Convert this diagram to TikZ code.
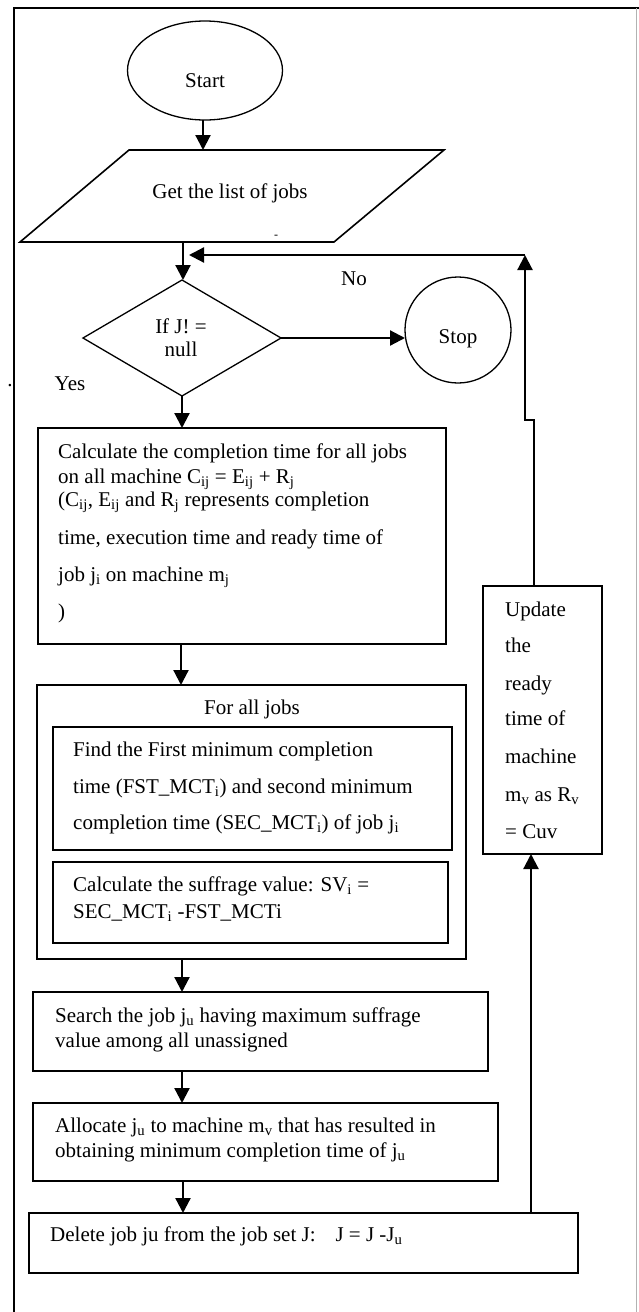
\documentclass[tikz,border=0pt]{standalone}
\usepackage{fontspec}
\setmainfont{Liberation Serif}
\usetikzlibrary{shapes.geometric,arrows.meta}
\begin{document}
\begin{tikzpicture}[x=1pt,y=-1pt,
  txt/.style={inner sep=0pt, font=\fontsize{21}{25}\selectfont, text height=14.7pt, text depth=4.2pt},
  ltxt/.style={txt, anchor=west},
  box/.style={draw, line width=1.7pt, inner sep=0pt, outer sep=0pt},
  thin/.style={draw, line width=1.3pt, inner sep=0pt, outer sep=0pt},
  arr/.style={line width=2.2pt, -{Triangle[length=15pt,width=15pt]}},
  frame/.style={line width=1.8pt}
]
\useasboundingbox (0,0) rectangle (639,1312);
% outer frame
\coordinate (fTL) at (14,8);
\coordinate (fTR) at (639,8);
\coordinate (fBL) at (14,1312);
\coordinate (gT) at (636,8);
\coordinate (gB) at (636,1312);
\draw[frame] (fTR) -- (fTL) -- (fBL);
\draw[line width=0.8pt, black!30] (gT) -- (gB);
\node[txt] (dot) at (10,381) {.};

% start
\node[thin, ellipse, minimum width=155pt, minimum height=99pt] (start) at (205,70.5) {};
\node[txt] (starttxt) at (205,82) {Start};

% parallelogram
\coordinate (pA) at (129,150);
\coordinate (pB) at (444,150);
\coordinate (pC) at (334,242);
\coordinate (pD) at (20,242);
\draw[line width=1.6pt, line join=miter] (pA) -- (pB) -- (pC) -- (pD) -- cycle;
\node[txt] (gettxt) at (230,193) {Get the list of jobs};
\node[inner sep=0pt, font=\fontsize{12}{12}\selectfont] (dash) at (276,237) {-};
\coordinate (pTop) at (203,150);
\coordinate (pBot) at (183,242);
\draw[arr] (start.south -| pTop) -- (pTop);

% decision
\node[thin, diamond, minimum width=198pt, minimum height=116pt] (dec) at (182,338) {};
\node[txt] (dec1) at (181,328) {If J! =};
\node[txt] (dec2) at (181,351) {null};
\draw[arr] (pBot) -- (pBot |- dec.north);

% stop
\node[thin, circle, minimum size=106pt] (stop) at (458,330) {};
\node[txt] (stoptxt) at (458,338) {Stop};
\draw[arr] (dec.east) -- (dec.east -| stop.west);

\node[txt] (no) at (354,280) {No};
\node[txt] (yes) at (70,385) {Yes};

% calc box
\node[box, minimum width=408pt, minimum height=216pt] (calc) at (242,536) {};
\node[ltxt] (c1) at (58,453) {Calculate the completion time for all jobs};
\node[ltxt] (c2) at (58,478) {on all machine C\textsubscript{ij} = E\textsubscript{ij} + R\textsubscript{j}};
\node[ltxt] (c3) at (58,501) {(C\textsubscript{ij}, E\textsubscript{ij} and R\textsubscript{j} represents completion};
\node[ltxt] (c4) at (58,539) {time, execution time and ready time of};
\node[ltxt] (c5) at (58,576) {job j\textsubscript{i} on machine m\textsubscript{j}};
\node[ltxt] (c6) at (58,613) {)};
\draw[arr] (dec.south) -- (dec.south |- calc.north);

% for all box
\node[box, minimum width=429pt, minimum height=274pt] (forall) at (251.5,822) {};
\node[txt] (fatxt) at (252,709) {For all jobs};
\node[box, minimum width=399pt, minimum height=123pt] (find) at (252.5,788.5) {};
\node[ltxt] (f1) at (73,751) {Find the First minimum completion};
\node[ltxt] (f2) at (73,788) {time (FST\_MCT\textsubscript{i}) and second minimum};
\node[ltxt] (f3) at (73,824) {completion time (SEC\_MCT\textsubscript{i}) of job j\textsubscript{i}};
\node[box, minimum width=395pt, minimum height=81pt] (suff) at (250.5,902.5) {};
\node[ltxt] (s1) at (73,886) {Calculate the suffrage value: SV\textsubscript{i} =};
\node[ltxt] (s2) at (73,913) {SEC\_MCT\textsubscript{i} -FST\_MCTi};
\coordinate (a2) at (181,0);
\draw[arr] (calc.south -| a2) -- (forall.north -| a2);

% search
\node[box, minimum width=455pt, minimum height=79pt] (search) at (260.5,1031.5) {};
\node[ltxt] (se1) at (55,1017) {Search the job j\textsubscript{u} having maximum suffrage};
\node[ltxt] (se2) at (55,1042) {value among all unassigned};
\coordinate (a3) at (182,0);
\draw[arr] (forall.south -| a3) -- (search.north -| a3);

% allocate
\node[box, minimum width=465pt, minimum height=78pt] (alloc) at (265.5,1142) {};
\node[ltxt] (al1) at (55,1127) {Allocate j\textsubscript{u} to machine m\textsubscript{v} that has resulted in};
\node[ltxt] (al2) at (55,1152) {obtaining minimum completion time of j\textsubscript{u}};
\draw[arr] (search.south -| a3) -- (alloc.north -| a3);

% delete
\node[box, minimum width=549pt, minimum height=60pt] (delete) at (303.5,1243) {};
\node[ltxt] (d1) at (50,1236) {Delete job ju from the job set J:\hspace{0.95em}J = J -J\textsubscript{u}};
\coordinate (a4) at (183,0);
\draw[arr] (alloc.south -| a4) -- (delete.north -| a4);

% update
\node[box, minimum width=119pt, minimum height=268pt] (update) at (542.5,720) {};
\node[ltxt] (u1) at (505,611) {Update};
\node[ltxt] (u2) at (505,647) {the};
\node[ltxt] (u3) at (505,685) {ready};
\node[ltxt] (u4) at (505,720) {time of};
\node[ltxt] (u5) at (505,758) {machine};
\node[ltxt] (u6) at (505,796) {m\textsubscript{v} as R\textsubscript{v}};
\node[ltxt] (u7) at (505,833) {= Cuv};
\coordinate (a5) at (531,0);
\draw[arr] (delete.north -| a5) -- (update.south -| a5);

% loop back
\coordinate (uTop) at (534,586);
\coordinate (jogA) at (534,420);
\coordinate (jogB) at (525,420);
\coordinate (corner) at (525,255);
\coordinate (merge) at (189,255);
\draw[arr] (uTop) -- (jogA) -- (jogB) -- (corner);
\draw[arr] (corner) -- (merge);
\end{tikzpicture}
\end{document}
